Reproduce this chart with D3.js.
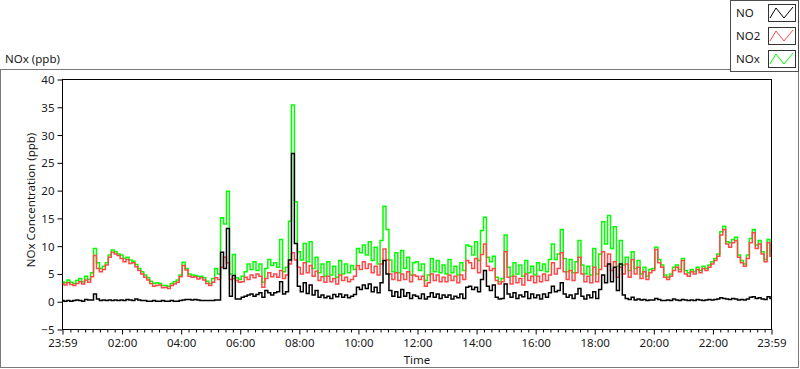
<!DOCTYPE html>
<html>
<head>
<meta charset="utf-8">
<script src="https://cdn.jsdelivr.net/npm/d3@7"></script>
<style>
  body { margin: 0; background: #fff; }
  svg text { font-family: "Noto Sans", "DejaVu Sans", sans-serif; fill: #1a1a1a; }
</style>
</head>
<body>
<svg id="chart" width="800" height="369"></svg>
<script>
// waveform start (minutes after midnight, 23:59 of the previous day) and sample step in minutes
var t0 = -1;
var dt = 6;

// series names and colours as in the legend
var seriesNames = ['NO', 'NO2', 'NOx'];
var seriesColors = ['#000000', '#ff4747', '#00ff00'];

// NO concentration (ppb), one value every 6 min, one row per hour
var noValues = [
  0.2, 0.1, 0.2, 0.1, 0.2, 0.3, 0.2, 0.1, 0.4, 0.3,
  0.3, 1.4, 0.5, 0.2, 0.3, 0.2, 0.3, 0.2, 0.3, 0.2,
  0.3, 0.2, 0.4, 0.3, 0.2, 0.5, 0.3, 0.2, 0.2, 0.1,
  0.1, 0.2, 0.1, 0.1, 0.2, 0.1, 0.1, 0.2, 0.1, 0.1,
  0.2, 0.3, 0.4, 0.4, 0.3, 0.4, 0.3, 0.2, 0.2, 0.2,
  0.2, 0.2, 0.3, 0.3, 8.9, 6.0, 13.2, 1.0, 4.7, 0.5,
  0.5, 0.8, 1.0, 1.2, 1.4, 1.0, 1.3, 1.6, 0.8, 2.0,
  1.6, 1.2, 1.6, 1.8, 3.6, 1.4, 1.8, 7.5, 26.7, 10.5,
  2.8, 1.8, 3.4, 1.5, 3.0, 1.2, 2.0, 0.8, 1.2, 0.7,
  1.0, 0.6, 1.3, 0.9, 1.4, 0.8, 1.2, 0.7, 1.0, 1.3,
  2.6, 2.2, 3.0, 2.4, 3.2, 1.8, 2.6, 1.6, 3.4, 7.4,
  5.0, 2.0, 1.0, 1.8, 0.8, 2.2, 1.0, 1.6, 0.6, 1.2,
  1.0, 0.6, 1.4, 0.5, 0.9, 1.6, 0.8, 1.4, 0.6, 1.2,
  0.8, 1.2, 0.5, 1.0, 0.7, 1.4, 0.6, 2.6, 2.8, 2.2,
  2.6, 1.8, 4.0, 5.6, 2.8, 2.0, 3.0, 0.8, 0.5, 0.6,
  3.2, 1.4, 0.8, 1.6, 0.6, 1.2, 0.9, 1.8, 0.6, 1.4,
  0.7, 1.2, 0.5, 1.4, 0.8, 1.6, 2.8, 1.8, 2.0, 3.4,
  1.4, 0.8, 1.2, 0.6, 1.4, 2.4, 1.0, 0.5, 1.2, 0.7,
  1.8, 0.6, 2.2, 4.8, 3.4, 6.8, 3.6, 6.2, 2.0, 6.8,
  1.2, 0.6, 0.4, 0.8, 0.3, 0.5, 0.3, 0.4, 0.2, 0.3,
  0.3, 0.6, 0.4, 0.2, 0.2, 0.3, 0.2, 0.5, 0.3, 0.2,
  0.4, 0.3, 0.2, 0.3, 0.2, 0.4, 0.3, 0.2, 0.3, 0.4,
  0.3, 0.4, 0.5, 0.7, 0.6, 0.5, 0.4, 0.6, 0.5, 0.3,
  0.4, 0.3, 0.5, 0.8, 0.9, 0.6, 0.7, 0.5, 0.4, 0.9, 0.6
];

// NO2 concentration (ppb)
var no2Values = [
  3.3, 3.0, 3.4, 3.1, 2.9, 3.3, 3.6, 3.2, 3.9, 3.5,
  4.5, 8.3, 6.0, 5.4, 5.8, 6.6, 8.0, 8.9, 8.6, 8.3,
  7.8, 7.2, 7.6, 6.9, 7.0, 6.3, 5.6, 5.0, 4.4, 3.9,
  3.3, 2.8, 2.9, 3.0, 2.5, 2.6, 2.4, 2.9, 3.2, 3.5,
  4.5, 6.5, 5.7, 4.6, 4.4, 4.5, 4.1, 4.3, 3.9, 3.3,
  2.9, 3.5, 4.3, 4.0, 6.2, 8.0, 7.0, 4.0, 4.2, 3.8,
  3.5, 3.6, 4.4, 4.0, 4.8, 4.3, 5.0, 4.6, 2.6, 4.2,
  5.2, 4.5, 5.0, 4.4, 5.6, 4.2, 4.8, 6.8, 8.8, 7.5,
  6.2, 5.0, 7.0, 5.2, 6.5, 4.6, 5.5, 3.8, 4.5, 3.5,
  4.6, 3.6, 4.2, 3.2, 4.8, 3.8, 4.4, 3.6, 4.0, 4.6,
  6.5, 5.8, 7.2, 6.0, 6.8, 5.2, 6.4, 4.8, 6.8, 9.5,
  7.5, 5.0, 4.0, 5.2, 3.8, 5.0, 4.0, 5.4, 3.6, 4.8,
  4.6, 4.0, 4.6, 2.8, 3.4, 5.0, 3.8, 4.8, 3.6, 4.4,
  3.6, 4.8, 3.8, 4.6, 3.4, 4.8, 4.0, 7.4, 7.0, 6.0,
  7.8, 5.2, 8.5, 10.4, 6.4, 5.6, 6.0, 3.8, 3.2, 3.6,
  9.0, 4.4, 3.2, 4.6, 3.4, 4.2, 3.0, 5.0, 3.8, 4.6,
  3.4, 4.6, 3.6, 5.0, 3.8, 4.8, 7.0, 5.0, 6.0, 8.8,
  5.4, 4.0, 5.6, 3.8, 5.2, 8.0, 5.0, 3.6, 4.6, 3.4,
  6.2, 3.6, 5.8, 9.0, 6.4, 8.6, 5.6, 7.2, 4.4, 6.2,
  5.0, 6.8, 4.4, 7.6, 5.0, 6.2, 4.2, 5.4, 4.0, 5.2,
  5.6, 9.4, 7.0, 6.2, 4.4, 4.0, 4.6, 5.6, 6.2, 5.4,
  7.4, 5.0, 4.6, 5.4, 5.0, 5.8, 5.2, 6.0, 5.6, 6.2,
  6.8, 7.4, 8.2, 12.0, 13.0, 10.4, 9.8, 10.6, 11.0, 8.0,
  7.0, 6.4, 7.8, 10.6, 12.4, 9.6, 10.4, 8.6, 7.2, 10.6, 8.2
];

// NOx concentration (ppb)
var noxValues = [
  3.6, 3.4, 3.9, 3.5, 3.3, 3.8, 4.2, 3.6, 4.6, 4.0,
  5.2, 9.6, 7.0, 6.0, 6.4, 7.0, 8.4, 9.3, 9.0, 8.6,
  8.4, 7.8, 8.0, 7.5, 7.3, 6.7, 6.0, 5.4, 4.8, 4.3,
  3.7, 3.3, 3.4, 3.3, 2.9, 2.9, 2.8, 3.3, 3.6, 3.9,
  4.8, 7.1, 6.0, 5.0, 4.8, 4.7, 4.6, 4.6, 4.3, 3.7,
  3.3, 4.2, 6.0, 5.0, 15.1, 14.0, 19.9, 5.0, 8.5, 4.3,
  4.0, 4.6, 5.4, 6.8, 5.8, 7.2, 5.6, 6.8, 3.5, 6.0,
  7.6, 6.5, 7.0, 6.2, 11.2, 5.4, 6.2, 14.5, 35.4, 18.0,
  9.0, 7.5, 10.5, 7.2, 10.8, 6.0, 8.0, 5.2, 6.8, 4.6,
  7.2, 4.8, 6.4, 4.4, 7.4, 5.0, 6.8, 5.2, 6.5, 5.8,
  9.6, 8.8, 10.2, 8.4, 10.8, 7.4, 9.8, 6.8, 11.0, 17.2,
  13.0, 7.5, 5.4, 8.8, 5.2, 9.2, 6.0, 8.0, 4.8, 7.0,
  7.2, 5.6, 6.8, 3.8, 4.8, 7.8, 5.4, 7.4, 5.2, 6.6,
  5.0, 7.6, 5.2, 6.4, 4.8, 7.0, 5.6, 10.2, 10.0, 8.4,
  10.8, 7.4, 12.8, 15.2, 8.0, 7.2, 8.2, 4.4, 3.6, 4.2,
  12.0, 6.2, 4.6, 7.0, 5.0, 6.6, 4.6, 7.4, 5.2, 6.4,
  4.8, 7.0, 5.6, 6.8, 5.4, 7.6, 10.4, 7.6, 8.6, 13.0,
  7.8, 5.4, 7.6, 5.2, 7.2, 11.0, 6.6, 5.0, 6.4, 4.8,
  9.6, 5.0, 8.6, 14.4, 10.4, 15.5, 9.6, 13.5, 6.4, 11.0,
  6.6, 8.0, 5.6, 9.0, 6.0, 7.4, 5.0, 6.2, 4.6, 5.8,
  6.0, 9.8, 7.6, 6.6, 4.8, 4.4, 5.0, 6.2, 6.6, 5.8,
  7.8, 5.6, 5.2, 5.8, 5.4, 6.2, 5.6, 6.4, 6.0, 6.6,
  7.2, 7.8, 8.6, 12.6, 13.6, 10.8, 10.6, 11.2, 11.6, 8.4,
  7.4, 6.8, 8.4, 11.4, 13.0, 10.2, 11.0, 9.0, 7.6, 11.2, 8.6
];

// axis ticks
var yTicks = [-5, 0, 5, 10, 15, 20, 25, 30, 35, 40];
var xTicks = [-1, 120, 240, 360, 480, 600, 720, 840, 960, 1080, 1200, 1320, 1439];

var svg = d3.select('#chart');
var plot = { left: 62.5, right: 771.5, top: 79.5, bottom: 329.5 };

var x = d3.scaleLinear().domain([-1, 1439]).range([plot.left, plot.right]);
var y = d3.scaleLinear().domain([-5, 40]).range([plot.bottom, plot.top]);

function clock(m) {
  m = (m + 1440) % 1440;
  return d3.format('02d')(Math.floor(m / 60)) + ':' + d3.format('02d')(m % 60);
}

// outer panel
svg.append('rect')
  .attr('x', 0.5).attr('y', 69.5).attr('width', 798).attr('height', 298)
  .attr('fill', '#fff').attr('stroke', '#7a7a7a');

svg.append('text')
  .attr('x', 5).attr('y', 63)
  .style('font-size', '11.5px')
  .text('NOx (ppb)');

// plot frame
svg.append('rect')
  .attr('x', plot.left).attr('y', plot.top)
  .attr('width', plot.right - plot.left).attr('height', plot.bottom - plot.top)
  .attr('fill', '#fff').attr('stroke', '#000');

// y axis
var yAxis = svg.append('g')
  .attr('transform', 'translate(' + plot.left + ',0)')
  .call(d3.axisLeft(y).tickValues(yTicks).tickSize(5).tickPadding(3));
yAxis.select('.domain').remove();
yAxis.selectAll('text').style('font-size', '11.5px').attr('dy', '0.35em');

// x axis, minor ticks every 15 minutes
var minor = d3.range(15, 1440, 15).filter(function (m) { return m % 120 !== 0; });
var xMinor = svg.append('g')
  .attr('transform', 'translate(0,' + plot.bottom + ')')
  .call(d3.axisBottom(x).tickValues(minor).tickSize(3).tickFormat(''));
xMinor.select('.domain').remove();

var xAxis = svg.append('g')
  .attr('transform', 'translate(0,' + plot.bottom + ')')
  .call(d3.axisBottom(x).tickValues(xTicks).tickSize(5).tickPadding(4).tickFormat(clock));
xAxis.select('.domain').remove();
xAxis.selectAll('text').style('font-size', '11.5px');

svg.selectAll('.tick line').attr('stroke', '#000');

// axis titles
svg.append('text')
  .attr('transform', 'translate(35,200) rotate(-90)')
  .attr('text-anchor', 'middle')
  .style('font-size', '11.5px')
  .text('NOx Concentration (ppb)');

svg.append('text')
  .attr('x', (plot.left + plot.right) / 2).attr('y', 364)
  .attr('text-anchor', 'middle')
  .style('font-size', '11.5px')
  .text('Time');

// traces, NOx underneath, then NO2, NO on top
var traces = [
  { values: noxValues, color: seriesColors[2] },
  { values: no2Values, color: seriesColors[1] },
  { values: noValues, color: seriesColors[0] }
];

var line = d3.line()
  .x(function (d, i) { return x(t0 + i * dt); })
  .y(function (d) { return y(d); })
  .curve(d3.curveStep);

svg.append('clipPath').attr('id', 'clip')
  .append('rect')
  .attr('x', plot.left).attr('y', plot.top)
  .attr('width', plot.right - plot.left).attr('height', plot.bottom - plot.top);

svg.append('g').attr('clip-path', 'url(#clip)')
  .selectAll('path')
  .data(traces)
  .enter().append('path')
  .attr('d', function (d) { return line(d.values); })
  .attr('fill', 'none')
  .attr('stroke', function (d) { return d.color; })
  .attr('stroke-width', 1.5);

// legend
var legend = svg.append('g');
legend.append('rect')
  .attr('x', 730.5).attr('y', 0.5).attr('width', 68).attr('height', 71)
  .attr('fill', '#fff').attr('stroke', '#4d4d4d');

var item = legend.selectAll('.item')
  .data(seriesNames)
  .enter().append('g')
  .attr('class', 'item')
  .attr('transform', function (d, i) { return 'translate(0,' + (i * 23) + ')'; });

item.append('text')
  .attr('x', 736).attr('y', 17)
  .style('font-size', '11.5px')
  .text(function (d) { return d; });

item.append('rect')
  .attr('x', 768.5).attr('y', 4.5).attr('width', 27).attr('height', 17)
  .attr('fill', '#fff').attr('stroke', '#333');

item.append('path')
  .attr('d', 'M770,18 L776,8 L784,18 L793,7')
  .attr('fill', 'none')
  .attr('stroke', function (d, i) { return seriesColors[i]; })
  .attr('stroke-width', 1);
</script>
</body>
</html>
